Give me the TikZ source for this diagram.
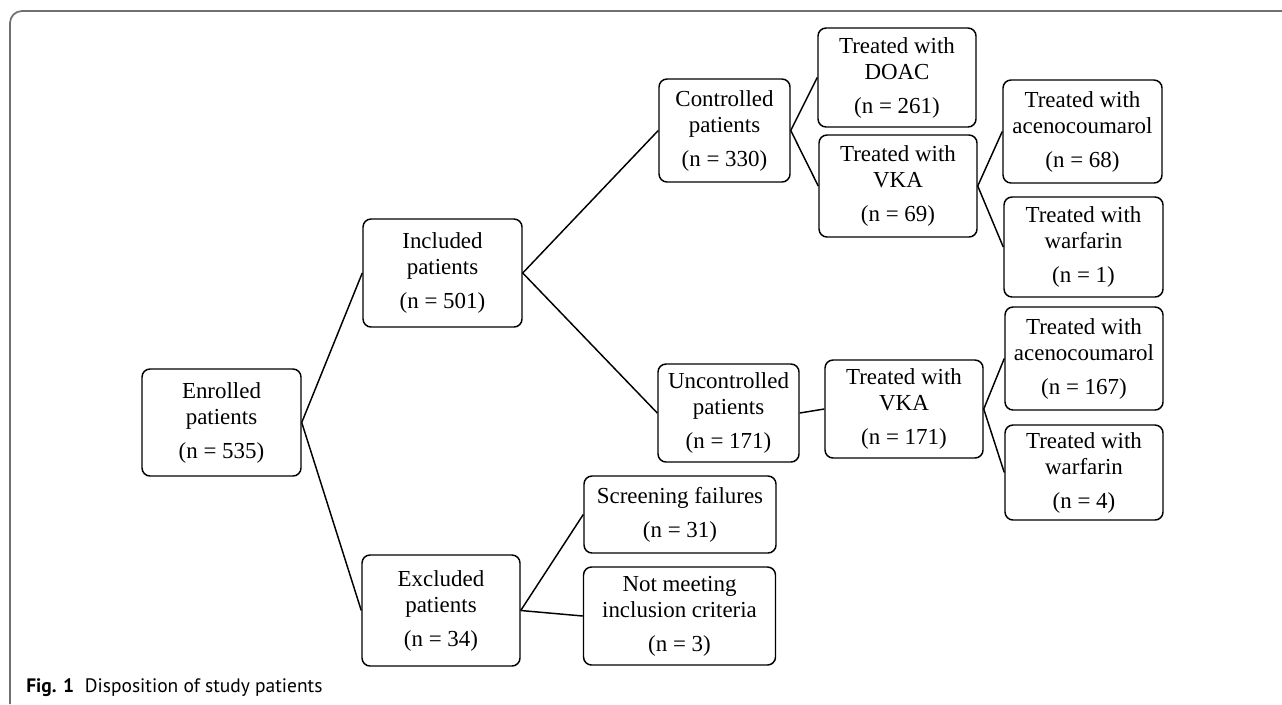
\documentclass[tikz,border=0pt]{standalone}
\usepackage{fontspec}
\setmainfont{Liberation Serif}
\newfontfamily\capfont{PT Sans}
\definecolor{framegray}{RGB}{112,112,112}
\begin{document}
\begin{tikzpicture}[x=0.75pt,y=-0.75pt,
  box/.style={draw=black, line width=1.1pt, rounded corners=6pt, align=center,
    inner sep=0pt, font=\fontsize{17.2}{19.5}\selectfont},
  sz/.style 2 args={minimum width=#1*0.75pt, minimum height=#2*0.75pt},
  link/.style={line width=1.1pt, black},
  frameline/.style={draw=framegray, line width=1.3pt, rounded corners=9pt}]
\useasboundingbox (0,0) rectangle (1282,704);
\draw[frameline] (10,704) -- (10,11) -- (1282,11);

\node[box, sz={159}{107}] (enr) at (221.5,422.5) {Enrolled\\patients\\[6pt](n = 535)};
\node[box, sz={159}{108}] (inc) at (442.5,273) {Included\\patients\\[6pt](n = 501)};
\node[box, sz={158}{111}] (exc) at (441,610.5) {Excluded\\patients\\[6pt](n = 34)};
\node[box, sz={192}{77}] (scr) at (680,514.5) {Screening failures\\[6pt](n = 31)};
\node[box, sz={192}{98}] (nmi) at (679.5,616) {Not meeting\\inclusion criteria\\[6pt](n = 3)};
\node[box, sz={131}{103}] (con) at (724.5,130.5) {Controlled\\patients\\[6pt](n = 330)};
\node[box, sz={141}{98}] (unc) at (728.5,413) {Uncontrolled\\patients\\[6pt](n = 171)};
\node[box, sz={158}{99}] (doac) at (897,77.5) {Treated with\\DOAC\\[6pt](n = 261)};
\node[box, sz={158}{102}] (vkaa) at (898,186) {Treated with\\VKA\\[6pt](n = 69)};
\node[box, sz={158}{98}] (vkab) at (904,409) {Treated with\\VKA\\[6pt](n = 171)};
\node[box, sz={159}{103}] (acea) at (1082.5,131.5) {Treated with\\acenocoumarol\\[6pt](n = 68)};
\node[box, sz={159}{100}] (wara) at (1083.5,247) {Treated with\\warfarin\\[6pt](n = 1)};
\node[box, sz={158}{103}] (aceb) at (1084,358.5) {Treated with\\acenocoumarol\\[6pt](n = 167)};
\node[box, sz={158}{95}] (warb) at (1084,472.5) {Treated with\\warfarin\\[6pt](n = 4)};

\draw[link] (enr.east) -- (inc.west);
\draw[link] (enr.east) -- (exc.west);
\draw[link] (inc.east) -- (con.west);
\draw[link] (inc.east) -- (unc.west);
\draw[link] (exc.east) -- (scr.west);
\draw[link] (exc.east) -- (nmi.west);
\draw[link] (con.east) -- (doac.west);
\draw[link] (con.east) -- (vkaa.west);
\draw[link] (unc.east) -- (vkab.west);
\draw[link] (vkaa.east) -- (acea.west);
\draw[link] (vkaa.east) -- (wara.west);
\draw[link] (vkab.east) -- (aceb.west);
\draw[link] (vkab.east) -- (warb.west);

\node[anchor=west, inner sep=0pt, font=\capfont\fontsize{14.6}{17}\selectfont] (cap) at (26,688)
  {\textbf{Fig. 1}\hspace{0.55em}Disposition of study patients};
\end{tikzpicture}
\end{document}
